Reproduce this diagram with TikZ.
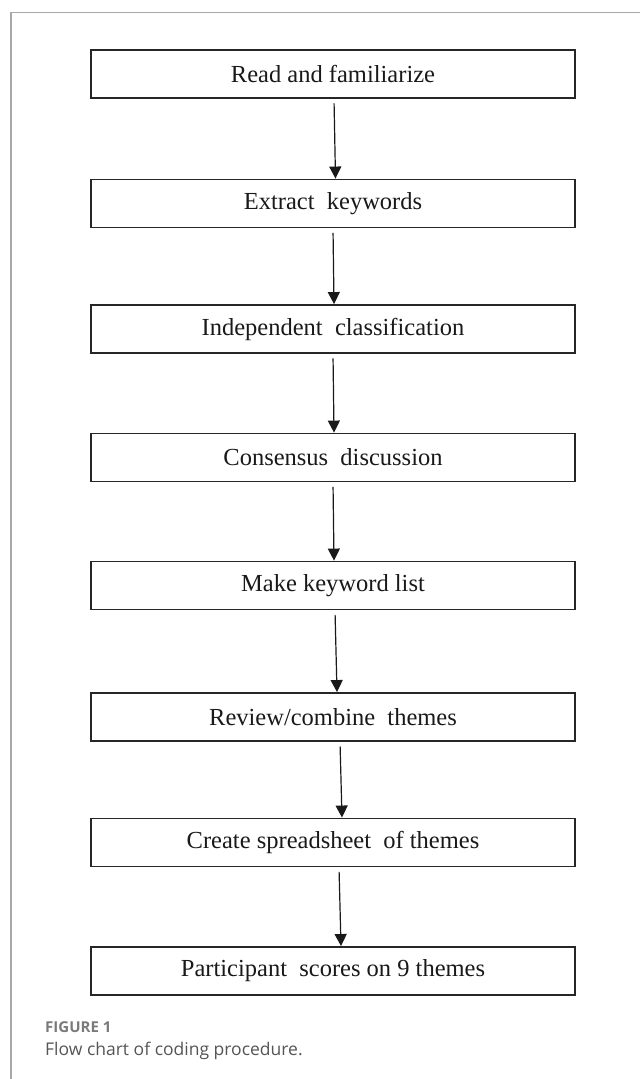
\documentclass[tikz,border=0pt]{standalone}
\usepackage{fontspec}
\setmainfont{Liberation Serif}
\newfontfamily\capfont{Open Sans}
\usetikzlibrary{arrows.meta}
\definecolor{frame}{HTML}{A8A8A8}
\definecolor{boxline}{HTML}{262626}
\definecolor{capgray}{HTML}{7A7A7A}
\definecolor{captext}{HTML}{555555}
\tikzset{
  stepbox/.style={draw=boxline, line width=1.9pt, rectangle, minimum width=484pt, minimum height=48pt, inner sep=0pt, font=\fontsize{24.5}{28}\selectfont, text=black!90},
  flow/.style={draw=black!90, line width=1.2pt, -{Triangle[width=12pt,length=12pt]}, shorten <=4.5pt}
}
\begin{document}
\begin{tikzpicture}[x=1pt,y=-1pt]
\useasboundingbox (0,0) rectangle (640,1079);
\draw[frame, line width=1.3pt] (11,1079) -- (11,12.5) -- (640,12.5);
\node[stepbox] (n1) at (333,74) {Read and familiarize};
\node[stepbox] (n2) at (333,203.5) {Extract\ \ keywords};
\node[stepbox] (n3) at (333,329) {Independent\ \ classification};
\node[stepbox] (n4) at (333,457.5) {Consensus\ \ discussion};
\node[stepbox] (n5) at (333,585.5) {Make keyword list};
\node[stepbox] (n6) at (333,717) {Review/combine\ \ themes};
\node[stepbox] (n7) at (333,842.5) {Create spreadsheet\ \ of themes};
\node[stepbox] (n8) at (333,971) {Participant\ \ scores on 9 themes};
\draw[flow] ([xshift=1pt]n1.south) -- ([xshift=2.5pt]n2.north);
\draw[flow] ([xshift=0pt]n2.south) -- ([xshift=1pt]n3.north);
\draw[flow] ([xshift=0pt]n3.south) -- ([xshift=1pt]n4.north);
\draw[flow] ([xshift=0pt]n4.south) -- ([xshift=1pt]n5.north);
\draw[flow] ([xshift=2pt]n5.south) -- ([xshift=4pt]n6.north);
\draw[flow] ([xshift=7pt]n6.south) -- ([xshift=9pt]n7.north);
\draw[flow] ([xshift=6pt]n7.south) -- ([xshift=8pt]n8.north);
\node[anchor=base west, inner sep=0pt, text=capgray, font=\capfont\fontsize{15}{18}\selectfont\bfseries] (fig) at (45,1032.5) {FIGURE 1};
\node[anchor=base west, inner sep=0pt, text=captext, font=\capfont\fontsize{17.5}{21}\selectfont] (cap) at (45,1055) {Flow chart of coding procedure.};
\end{tikzpicture}
\end{document}
